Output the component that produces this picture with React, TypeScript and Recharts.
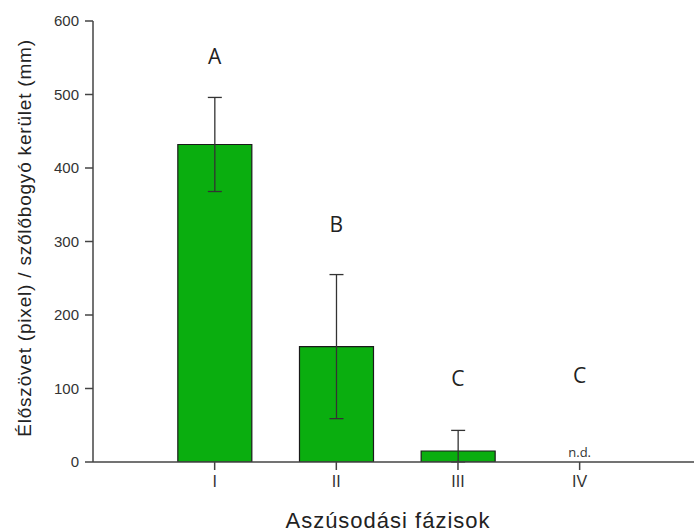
import { ComposedChart, Bar, XAxis, YAxis, ErrorBar, Scatter } from 'recharts';

const phases = ['I', 'II', 'III', 'IV'];
const positions = [1, 2, 3, 4];
const means = [432, 157, 15, null];
const errors = [[64, 64], [98, 98], [15, 28], null];
const letters = ['A', 'B', 'C', 'C'];
const letterY = [553, 324, 114, 118];
const ndY = [null, null, null, 13];
const yTicks = [0, 100, 200, 300, 400, 500, 600];

const data = phases.map((p, i) => ({
  name: p,
  pos: positions[i],
  mean: means[i],
  err: errors[i],
  letter: letters[i],
  letterY: letterY[i],
  ndY: ndY[i],
}));

const axisFont = '"Liberation Sans", Arial, sans-serif';
const letterFont = '"Open Sans", "Noto Sans", sans-serif';

const LetterShape = (props: any) => {
  if (props.payload?.letterY == null || props.cy == null || isNaN(props.cy)) return null;
  return (
    <text x={props.cx} y={props.cy} textAnchor="middle" dominantBaseline="central"
      fontFamily={letterFont} fontSize={21} fill="#222">
      {props.payload.letter}
    </text>
  );
};

const NdShape = (props: any) => {
  if (props.payload?.ndY == null || props.cy == null || isNaN(props.cy)) return <g />;
  return (
    <text x={props.cx} y={props.cy} textAnchor="middle" dominantBaseline="central"
      fontFamily={letterFont} fontSize={13} fill="#333">
      n.d.
    </text>
  );
};

export default function App() {
  return (
    <div style={{ position: 'absolute', left: 0, top: 0, background: '#fff' }}>
      <ComposedChart width={694} height={532} data={data} margin={{ top: 21, right: 0, left: 0, bottom: 0 }}>
        <XAxis
          dataKey="pos"
          type="number"
          domain={[0, 4.94]}
          ticks={positions}
          tickFormatter={(v: number) => phases[v - 1]}
          height={70}
          tickSize={8}
          tickMargin={6}
          stroke="#444"
          strokeWidth={1.5}
          tick={{ fontSize: 16, fill: '#333', fontFamily: axisFont }}
          label={{
            content: () => (
              <text x={388} y={528} textAnchor="middle" fontFamily={axisFont} fontSize={22}
                letterSpacing={1} fill="#222">
                Aszúsodási fázisok
              </text>
            ),
          }}
        />
        <YAxis
          type="number"
          domain={[0, 600]}
          ticks={yTicks}
          width={93}
          tickSize={8}
          tickMargin={6}
          stroke="#444"
          strokeWidth={1.5}
          allowDataOverflow
          tick={{ fontSize: 15, fill: '#333', fontFamily: axisFont }}
          label={{
            content: () => (
              <text x={24} y={238} transform="rotate(-90 24 238)" textAnchor="middle" dominantBaseline="central"
                fontFamily={axisFont} fontSize={19} letterSpacing={0.8} fill="#222">
                Élőszövet (pixel) / szőlőbogyó kerület (mm)
              </text>
            ),
          }}
        />
        <Bar dataKey="mean" fill="#0aae0f" stroke="#1a1a1a" strokeWidth={1.2} barSize={74} isAnimationActive={false}>
          <ErrorBar dataKey="err" width={7} stroke="#333" strokeWidth={1.3} direction="y" />
        </Bar>
        <Scatter dataKey="letterY" shape={LetterShape} isAnimationActive={false} />
        <Scatter dataKey="ndY" shape={NdShape} isAnimationActive={false} />
      </ComposedChart>
    </div>
  );
}
